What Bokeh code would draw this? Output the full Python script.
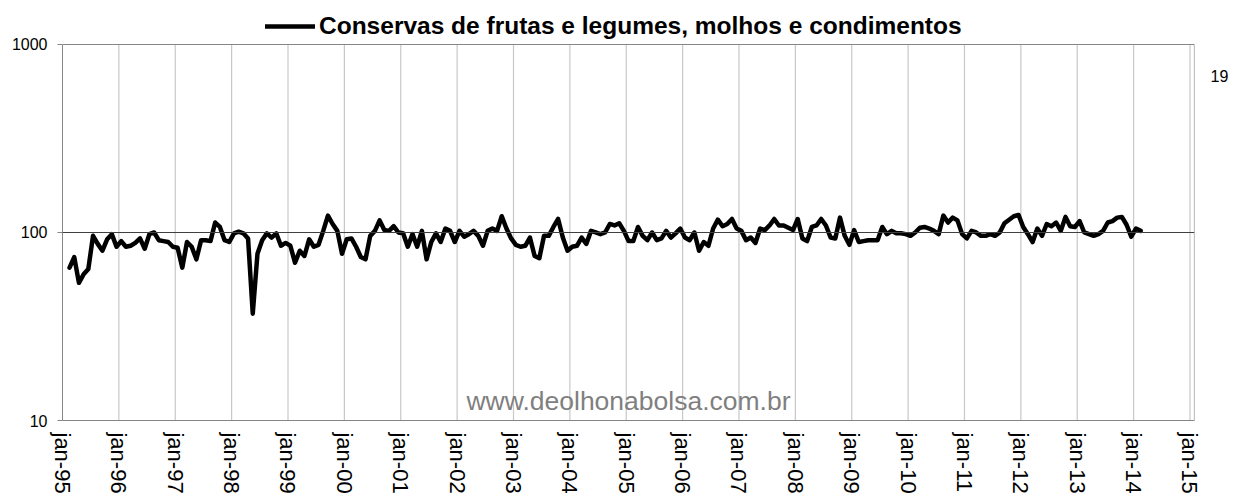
import math
from bokeh.plotting import figure
from bokeh.models import (FixedTicker, Span, Label, Legend, LegendItem,
                          ColumnDataSource, Range1d, LogAxis)
from bokeh.embed import file_html
from bokeh.resources import INLINE

# ---- data -----------------------------------------------------------
serie_nome = "Conservas de frutas e legumes, molhos e condimentos"
ano_inicio = 1995
mes_inicio = 2  # fev-95 ... fev-14 (monthly)
valores = [
    65, 74, 54, 60, 64, 96, 87, 80, 92, 98, 84, 90,
    84, 85, 88, 93, 82, 98, 100, 91, 90, 89, 84, 83,
    65, 89, 84, 72, 91, 91, 90, 113, 107, 91, 89, 99,
    101, 99, 93, 37, 77, 91, 99, 94, 99, 85, 88, 85,
    69, 80, 75, 92, 84, 86, 102, 123, 111, 102, 77, 92,
    93, 84, 74, 72, 96, 102, 116, 103, 102, 108, 100, 99,
    84, 98, 84, 102, 72, 89, 99, 89, 105, 102, 89, 102,
    95, 98, 102, 96, 85, 102, 105, 102, 122, 105, 93, 86,
    84, 85, 94, 75, 73, 96, 96, 107, 118, 94, 80, 84,
    85, 94, 87, 102, 100, 98, 100, 111, 109, 112, 102, 90,
    90, 107, 96, 91, 100, 91, 93, 102, 94, 99, 105, 94,
    91, 100, 80, 89, 85, 105, 117, 108, 111, 118, 105, 102,
    91, 94, 88, 105, 103, 109, 118, 109, 109, 106, 103, 118,
    93, 90, 107, 109, 118, 109, 94, 93, 120, 96, 86, 103,
    89, 90, 91, 91, 91, 107, 98, 102, 99, 99, 98, 96,
    100, 106, 107, 105, 102, 98, 123, 113, 120, 116, 98, 93,
    102, 100, 96, 96, 98, 96, 100, 112, 117, 122, 124, 107,
    98, 89, 105, 96, 111, 108, 113, 102, 121, 108, 107, 115,
    100, 98, 96, 98, 102, 113, 115, 120, 121, 110, 95, 105, 102,
]
x_ticks = list(range(1995, 2016))
x_tick_labels = ["jan-95", "jan-96", "jan-97", "jan-98", "jan-99", "jan-00",
                 "jan-01", "jan-02", "jan-03", "jan-04", "jan-05", "jan-06",
                 "jan-07", "jan-08", "jan-09", "jan-10", "jan-11", "jan-12",
                 "jan-13", "jan-14", "jan-15"]
y_ticks = [10, 100, 1000]
y_tick_labels = ["10", "100", "1000"]
marca = "www.deolhonabolsa.com.br"
texto_direita = "19"
texto_direita_pos = 684  # position on the value scale

# month positions (fractional year, mid-month)
x = [ano_inicio + (mes_inicio - 1 + i + 0.5) / 12.0 for i in range(len(valores))]
src = ColumnDataSource(dict(x=x, y=valores))

FONT = "Liberation Sans"
X0, X1 = 1995, 2015.08
Y0, Y1 = y_ticks[0], y_ticks[-1]

# the frame reaches up to the top of the canvas (room for the legend/title);
# the visible plot box is bounded at 1000
p = figure(width=1234, height=497, y_axis_type="log",
           x_range=Range1d(X0, X1), y_range=Range1d(10, 1714),
           output_backend="svg", toolbar_location=None,
           min_border_left=62, min_border_right=40,
           min_border_top=0, min_border_bottom=77)
p.background_fill_color = "white"
p.border_fill_color = "white"
p.outline_line_color = None

# vertical gridlines (bounded to the plot box)
gsrc = ColumnDataSource(dict(x0=x_ticks[1:], y0=[Y0] * (len(x_ticks) - 1),
                             x1=x_ticks[1:], y1=[Y1] * (len(x_ticks) - 1)))
p.segment("x0", "y0", "x1", "y1", source=gsrc, line_color="#c8c8c8",
          line_width=1.2)
# top and right edges of the plot box
bsrc = ColumnDataSource(dict(x0=[X0, X1], y0=[Y1, Y0], x1=[X1, X1], y1=[Y1, Y1]))
p.segment("x0", "y0", "x1", "y1", source=bsrc, line_color="#868686",
          line_width=1.2)

# reference line at 100
p.add_layout(Span(location=100, dimension="width", line_color="#404040",
                  line_width=1.2))

r = p.line("x", "y", source=src, line_color="black", line_width=4.5,
           line_join="round", line_cap="round")

# x axis
p.xaxis.ticker = FixedTicker(ticks=x_ticks)
p.xaxis.major_label_overrides = {t: l for t, l in zip(x_ticks, x_tick_labels)}
p.xaxis.major_label_orientation = -math.pi / 2
p.xaxis.major_label_text_font = FONT
p.xaxis.major_label_text_font_size = "22px"
p.xaxis.major_label_text_color = "black"
p.xaxis.major_label_standoff = 12
p.xaxis.major_tick_out = 0
p.xaxis.major_tick_in = 0
p.xaxis.minor_tick_line_color = None
p.xaxis.axis_line_color = "#868686"

# y axis
p.yaxis.ticker = FixedTicker(ticks=y_ticks, minor_ticks=[])
p.yaxis.bounds = (Y0, Y1)
p.yaxis.major_label_overrides = {t: l for t, l in zip(y_ticks, y_tick_labels)}
p.yaxis.major_label_text_font = FONT
p.yaxis.major_label_text_font_size = "16px"
p.yaxis.major_label_text_color = "black"
p.yaxis.major_label_standoff = 10
p.yaxis.major_tick_out = 5
p.yaxis.major_tick_in = 0
p.yaxis.major_tick_line_color = "#868686"
p.yaxis.minor_tick_line_color = None
p.yaxis.axis_line_color = "#868686"

# right-side stray label "19" as a bare right axis
ax_r = LogAxis(ticker=FixedTicker(ticks=[texto_direita_pos], minor_ticks=[]),
               major_label_overrides={texto_direita_pos: texto_direita},
               axis_line_color=None, major_tick_line_color=None,
               minor_tick_line_color=None, major_tick_out=0, major_tick_in=0,
               major_label_standoff=16, major_label_text_font=FONT,
               major_label_text_font_size="16px",
               major_label_text_color="black")
p.add_layout(ax_r, "right")

p.xgrid.grid_line_color = None
p.ygrid.grid_line_color = None

# watermark
p.add_layout(Label(x=2005.04, y=12.75, text=marca, text_align="center",
                   text_baseline="middle", text_font=FONT,
                   text_font_size="26.5px", text_color="#7f7f7f"))

# legend used as title, at the top of the frame (screen px from frame bottom-left)
legend = Legend(items=[LegendItem(label=serie_nome, renderers=[r])],
                location=(203, 380), orientation="horizontal",
                padding=0, margin=0, spacing=0,
                glyph_width=50, glyph_height=24, label_height=24,
                label_standoff=4,
                label_text_font=FONT, label_text_font_size="24.5px",
                label_text_font_style="bold", label_text_color="black",
                border_line_color=None, background_fill_alpha=0)
p.add_layout(legend)

open("out.html", "w").write(file_html(p, INLINE))
